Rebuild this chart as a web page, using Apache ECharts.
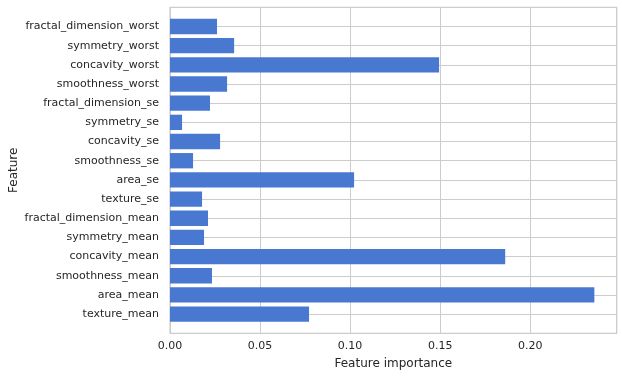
<!DOCTYPE html>
<html>
<head>
<meta charset="utf-8">
<script src="https://cdn.jsdelivr.net/npm/echarts@6/dist/echarts.min.js"></script>
<style>
html,body{margin:0;padding:0;background:#fff;}
#chart{width:622px;height:377px;}
</style>
</head>
<body>
<div id="chart"></div>
<script>
const categories = ['texture_mean','area_mean','smoothness_mean','concavity_mean','symmetry_mean','fractal_dimension_mean','texture_se','area_se','smoothness_se','concavity_se','symmetry_se','fractal_dimension_se','smoothness_worst','concavity_worst','symmetry_worst','fractal_dimension_worst'];
const importance = [0.0772,0.2356,0.0233,0.1861,0.0189,0.0211,0.0178,0.1022,0.0128,0.0278,0.0067,0.0222,0.0317,0.1494,0.0356,0.0261];
const xMin = 0, xMax = 0.248, xStep = 0.05;
const xTitle = 'Feature importance';
const yTitle = 'Feature';

const textColor = '#262626';
const gridColor = '#cccccc';
const font = 'DejaVu Sans';

const chart = echarts.init(document.getElementById('chart'), null, {renderer: 'canvas'});
chart.setOption({
  animation: false,
  backgroundColor: '#ffffff',
  grid: [
    {left: 170, right: 5.3, top: 7.3, bottom: 43.7, show: true, borderColor: gridColor, borderWidth: 1.25, backgroundColor: 'transparent', containLabel: false, outerBoundsMode: 'none'},
    {left: 170, right: 5.3, top: 16.9, bottom: 53.3, containLabel: false, outerBoundsMode: 'none'}
  ],
  xAxis: [
    {
      gridIndex: 0, type: 'value', min: xMin, max: xMax, interval: xStep,
      name: xTitle, nameLocation: 'middle', nameGap: 25, nameMoveOverlap: false,
      nameTextStyle: {color: textColor, fontSize: 12, fontFamily: font},
      axisLine: {show: false}, axisTick: {show: false},
      axisLabel: {color: textColor, fontSize: 11, fontFamily: font, margin: 7, showMaxLabel: false,
        formatter: v => v.toFixed(2)},
      splitLine: {show: true, lineStyle: {color: gridColor, width: 1}}
    },
    {
      gridIndex: 1, type: 'value', min: xMin, max: xMax, interval: xStep,
      show: false, splitLine: {show: false}
    }
  ],
  yAxis: [
    {
      gridIndex: 0, type: 'value', min: -1, max: categories.length, interval: 1,
      axisLine: {show: false}, axisTick: {show: false}, axisLabel: {show: false},
      splitLine: {show: true, lineStyle: {color: gridColor, width: 1}}
    },
    {
      gridIndex: 1, type: 'category', data: categories,
      name: yTitle, nameLocation: 'middle', nameGap: 150, nameMoveOverlap: false,
      nameTextStyle: {color: textColor, fontSize: 12, fontFamily: font},
      axisLine: {show: false}, axisTick: {show: false},
      axisLabel: {color: textColor, fontSize: 11, fontFamily: font, margin: 11, interval: 0},
      splitLine: {show: false}
    }
  ],
  series: [{
    type: 'bar',
    xAxisIndex: 1, yAxisIndex: 1,
    data: importance,
    barWidth: '80%',
    itemStyle: {color: '#4878d0'},
    z: 3
  }]
});
</script>
</body>
</html>
